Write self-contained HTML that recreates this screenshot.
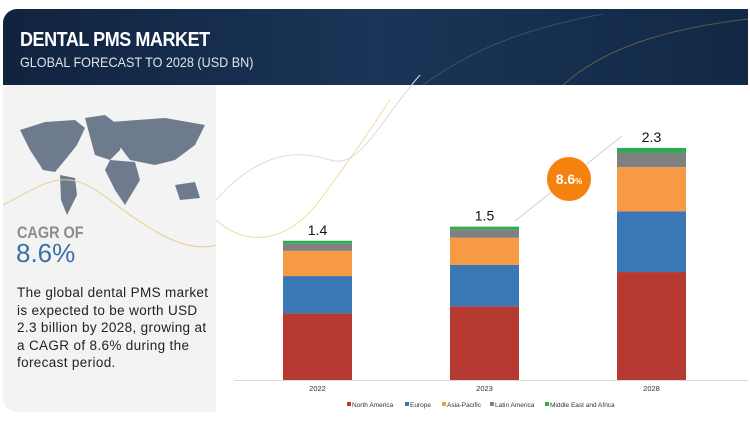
<!DOCTYPE html>
<html><head><meta charset="utf-8"><style>
body{margin:0;width:750px;height:421px;background:#fff;position:relative;overflow:hidden;font-family:"Liberation Sans",sans-serif}
.banner{position:absolute;left:3px;top:9px;width:745px;height:76px;background:linear-gradient(90deg,#10233f,#1a3558 50%,#122845);border-top-left-radius:14px;overflow:hidden}
.t1{position:absolute;left:17px;top:20px;color:#fff;font-weight:bold;font-size:20px;letter-spacing:-0.5px;transform:scaleX(0.9);transform-origin:left}
.t2{position:absolute;left:17px;top:45px;color:#dfe4ea;font-size:14px;transform:scaleX(0.9);transform-origin:left}
.left{position:absolute;left:3px;top:85px;width:213px;height:327px;background:#f3f3f4;border-bottom-left-radius:14px}
.cagr{position:absolute;left:17px;top:223px;color:#8c8c8c;font-weight:bold;font-size:17px;transform:scaleX(0.85);transform-origin:left}
.cv{position:absolute;left:16px;top:238px;color:#3b6fa6;font-size:26px}
.para{position:absolute;left:17px;top:284px;width:210px;font-size:13.5px;line-height:17.5px;color:#222;letter-spacing:0.35px;white-space:nowrap}
</style></head><body>
<div class="banner">
<svg width="745" height="76" style="position:absolute;left:0;top:0">
<path d="M420 76 C470 40 520 20 600 5" stroke="#6c89a8" stroke-width="1" fill="none" opacity=".35"/>
<path d="M560 76 C600 40 660 20 745 10" stroke="#c9a14a" stroke-width="1" fill="none" opacity=".4"/>
</svg>
<div class="t1">DENTAL PMS MARKET</div>
<div class="t2">GLOBAL FORECAST TO 2028 (USD BN)</div>
</div>
<div class="left">
<svg width="200" height="110" style="position:absolute;left:12px;top:25px">
<path d="M5 20 L30 12 L60 10 L70 18 L62 35 L50 50 L40 62 L28 60 L15 40 Z" fill="#6e7b8d"/>
<path d="M45 65 L60 68 L62 85 L52 105 L46 90 Z" fill="#6e7b8d"/>
<path d="M70 8 L90 5 L110 20 L105 40 L95 50 L80 45 Z" fill="#6e7b8d"/>
<path d="M95 12 L150 8 L190 15 L180 35 L160 50 L140 55 L115 50 L100 30 Z" fill="#6e7b8d"/>
<path d="M95 50 L120 52 L125 70 L110 95 L100 80 L90 60 Z" fill="#6e7b8d"/>
<path d="M160 75 L180 72 L185 88 L165 90 Z" fill="#6e7b8d"/>
</svg>
<svg width="213" height="327" style="position:absolute;left:0;top:0"><path d="M0 120 C40 100 60 80 100 110 S180 170 213 160" stroke="#e7cf8a" fill="none"/></svg>
</div>
<div class="cagr">CAGR OF</div>
<div class="cv">8.6%</div>
<div class="para">The global dental PMS market<br>is expected to be worth USD<br>2.3 billion by 2028, growing at<br>a CAGR of 8.6% during the<br>forecast period.</div>
<svg id="chart" width="750" height="421" style="position:absolute;left:0;top:0">
<path d="M216 200 C260 150 300 150 330 160 S380 120 420 75" stroke="#dcdcdc" fill="none"/>
<path d="M216 220 C250 250 290 240 320 200 S370 130 390 100" stroke="#f0dc9a" fill="none"/>
</svg>
<script>
const categories=["2022","2023","2028"];
const series=["North America","Europe","Asia-Pacific","Latin America","Middle East and Africa"];
const colors=["#b73a32","#3a78b5","#f79a45","#808080","#2eaa55"];
const northAmerica=[0.66,0.73,1.07];
const europe=[0.37,0.41,0.60];
const asiaPacific=[0.25,0.27,0.44];
const latinAmerica=[0.07,0.08,0.14];
const mea=[0.03,0.03,0.05];
const totalLabels=["1.4","1.5","2.3"];
const cagrText="8.6";
const values=[northAmerica,europe,asiaPacific,latinAmerica,mea];
const svg=document.getElementById('chart');
const NS='http://www.w3.org/2000/svg';
const baseY=380,pxPerUnit=100.9,barW=69;
const xCenters=[317.5,484.5,651.5];
const y=v=>baseY-v*pxPerUnit;
function mk(tag,attrs){const e=document.createElementNS(NS,tag);for(const k in attrs)e.setAttribute(k,attrs[k]);svg.appendChild(e);return e;}
const ax=mk('line',{x1:234,x2:748,y1:380.5,y2:380.5,stroke:'#d9d9d9'});


categories.forEach((c,i)=>{
 let acc=0;
 values.forEach((s,j)=>{
  const r=mk('rect',{x:xCenters[i]-barW/2,y:y(acc+s[i]),width:barW,height:s[i]*pxPerUnit,fill:colors[j]});
  
  
  acc+=s[i];
 });
 const t=mk('text',{x:xCenters[i],y:y(acc)-6,'text-anchor':'middle','font-size':'14',fill:'#111'});
 t.textContent=totalLabels[i];
 
 
 const xl=mk('text',{x:xCenters[i],y:391,'text-anchor':'middle','font-size':'7.5',fill:'#333'});
 xl.textContent=c;
 
 
});
const ar=mk('line',{x1:515,y1:221,x2:622,y2:136,stroke:'#d0d0d0','stroke-width':1});


const circ=mk('circle',{cx:569,cy:179,r:22,fill:'#f5820f'});


const ct=mk('text',{x:569,y:184,'text-anchor':'middle','font-size':'14','font-weight':'bold',fill:'#fff'});
ct.innerHTML=cagrText+'<tspan font-size="8">%</tspan>';


const legX=[347,405,442,490,545];
series.forEach((s,j)=>{
 const g=document.createElementNS(NS,'g');
 
 
 svg.appendChild(g);
 const r=document.createElementNS(NS,'rect');r.setAttribute('x',legX[j]);r.setAttribute('y',402);r.setAttribute('width',4);r.setAttribute('height',4);r.setAttribute('fill',colors[j]);g.appendChild(r);
 const t=document.createElementNS(NS,'text');t.setAttribute('x',legX[j]+5);t.setAttribute('y',407);t.setAttribute('font-size','6.5');t.setAttribute('fill','#333');t.textContent=s;g.appendChild(t);
});
</script>
</body></html>
